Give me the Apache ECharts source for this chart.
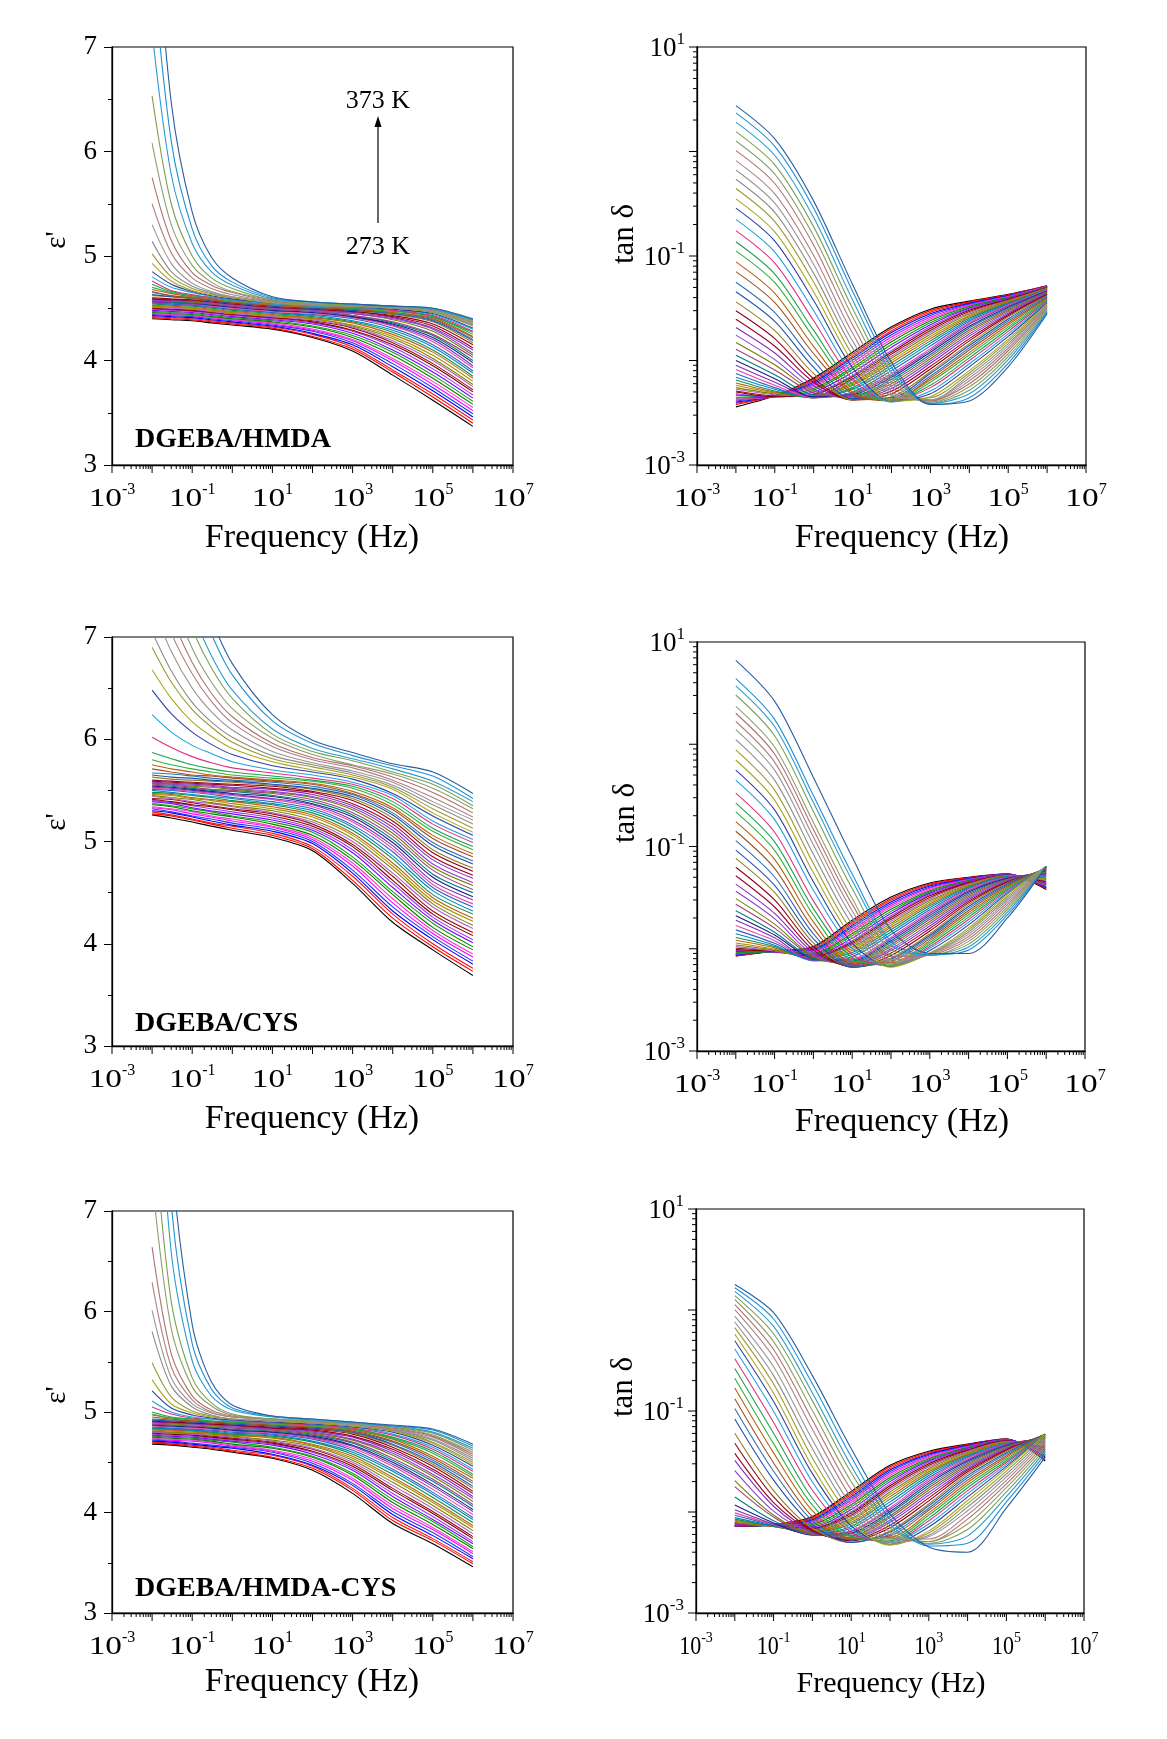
<!DOCTYPE html>
<html>
<head>
<meta charset="utf-8">
<script src="https://cdn.jsdelivr.net/npm/echarts@6/dist/echarts.min.js"></script>
<style>
html,body{margin:0;padding:0;background:#fff;}
#chart{width:1167px;height:1739px;}
</style>
</head>
<body>
<div id="chart"></div>
<script>
// Measurement temperatures (K), one curve each
const temperatures = [273,275,277,279,281,283,285,287,289,291,293,295,297,299,301,303,305,307,309,311,313,315,317,319,321,323,325,327,329,331,333,335,337,339,341,343,345,347,349,351,353,355,357,359,361,363,365,367,369,371,373];

// Frequencies (Hz) at which each curve is sampled
const freqEps = [0.01,0.03,0.1,0.3,1,10,100,1e3,1e4,1e5,1e6];
const freqTan = [0.01,0.1,1,10,100,1e3,1e4,1e5,1e6];

// Real permittivity, DGEBA/HMDA (rows: 273 K ... 373 K)
const epsHMDA = [
[4.40,4.39,4.38,4.36,4.34,4.30,4.22,4.09,3.86,3.62,3.37],
[4.41,4.40,4.39,4.37,4.35,4.31,4.23,4.11,3.89,3.65,3.40],
[4.42,4.41,4.40,4.38,4.36,4.32,4.25,4.13,3.91,3.68,3.43],
[4.43,4.42,4.41,4.39,4.37,4.33,4.26,4.15,3.94,3.71,3.46],
[4.44,4.43,4.42,4.40,4.38,4.34,4.28,4.17,3.97,3.74,3.49],
[4.45,4.44,4.43,4.41,4.39,4.35,4.29,4.19,4.00,3.77,3.52],
[4.45,4.44,4.43,4.41,4.39,4.36,4.30,4.20,4.02,3.80,3.55],
[4.46,4.45,4.44,4.42,4.40,4.37,4.32,4.22,4.05,3.83,3.58],
[4.47,4.46,4.45,4.43,4.41,4.38,4.33,4.24,4.08,3.86,3.61],
[4.48,4.47,4.46,4.44,4.42,4.39,4.35,4.26,4.10,3.89,3.64],
[4.49,4.48,4.47,4.45,4.43,4.40,4.36,4.28,4.13,3.92,3.67],
[4.50,4.49,4.48,4.46,4.44,4.41,4.37,4.29,4.15,3.95,3.70],
[4.50,4.49,4.48,4.46,4.44,4.41,4.38,4.31,4.17,3.97,3.72],
[4.51,4.50,4.49,4.47,4.45,4.42,4.39,4.32,4.19,4.00,3.75],
[4.52,4.51,4.50,4.48,4.46,4.43,4.40,4.33,4.21,4.02,3.77],
[4.52,4.51,4.50,4.48,4.46,4.43,4.40,4.34,4.23,4.05,3.80],
[4.53,4.52,4.51,4.49,4.47,4.44,4.41,4.36,4.25,4.08,3.83],
[4.54,4.53,4.52,4.50,4.48,4.45,4.42,4.37,4.27,4.10,3.85],
[4.55,4.54,4.53,4.51,4.49,4.46,4.43,4.38,4.29,4.13,3.88],
[4.55,4.54,4.53,4.51,4.49,4.46,4.44,4.40,4.31,4.15,3.90],
[4.56,4.55,4.54,4.52,4.50,4.47,4.45,4.41,4.33,4.18,3.93],
[4.56,4.55,4.54,4.53,4.51,4.48,4.46,4.42,4.34,4.20,3.95],
[4.57,4.56,4.55,4.53,4.51,4.48,4.46,4.42,4.35,4.22,3.98],
[4.57,4.56,4.55,4.54,4.52,4.49,4.47,4.43,4.36,4.24,4.00],
[4.58,4.57,4.56,4.54,4.52,4.49,4.47,4.43,4.37,4.25,4.03],
[4.58,4.57,4.56,4.55,4.53,4.50,4.48,4.45,4.39,4.28,4.05],
[4.58,4.57,4.57,4.55,4.53,4.50,4.48,4.45,4.40,4.30,4.07],
[4.59,4.58,4.57,4.56,4.54,4.51,4.49,4.46,4.41,4.31,4.10],
[4.59,4.58,4.58,4.56,4.54,4.51,4.49,4.47,4.42,4.33,4.12],
[4.60,4.59,4.58,4.57,4.55,4.52,4.50,4.47,4.43,4.35,4.15],
[4.62,4.61,4.59,4.57,4.55,4.52,4.50,4.48,4.44,4.37,4.17],
[4.63,4.61,4.60,4.57,4.55,4.52,4.50,4.48,4.45,4.38,4.19],
[4.65,4.62,4.60,4.58,4.56,4.53,4.51,4.49,4.45,4.39,4.20],
[4.66,4.62,4.60,4.58,4.56,4.53,4.51,4.49,4.46,4.40,4.22],
[4.68,4.64,4.61,4.59,4.56,4.53,4.51,4.50,4.46,4.41,4.23],
[4.70,4.65,4.62,4.60,4.57,4.54,4.52,4.50,4.47,4.42,4.25],
[4.73,4.66,4.62,4.60,4.58,4.54,4.52,4.50,4.48,4.42,4.27],
[4.76,4.67,4.63,4.60,4.58,4.54,4.52,4.51,4.48,4.43,4.28],
[4.80,4.70,4.65,4.61,4.58,4.54,4.52,4.51,4.49,4.44,4.30],
[4.85,4.73,4.66,4.62,4.59,4.55,4.53,4.52,4.49,4.45,4.31],
[4.93,4.76,4.67,4.63,4.60,4.55,4.53,4.52,4.50,4.46,4.33],
[5.02,4.80,4.69,4.64,4.60,4.56,4.53,4.52,4.50,4.46,4.34],
[5.14,4.85,4.71,4.65,4.61,4.56,4.53,4.52,4.50,4.47,4.34],
[5.30,4.93,4.74,4.66,4.61,4.56,4.54,4.53,4.51,4.47,4.35],
[5.50,5.03,4.79,4.69,4.63,4.57,4.54,4.53,4.51,4.48,4.36],
[5.75,5.15,4.84,4.72,4.65,4.57,4.54,4.53,4.51,4.48,4.37],
[6.08,5.30,4.91,4.75,4.66,4.58,4.54,4.53,4.51,4.48,4.37],
[6.53,5.50,5.00,4.79,4.69,4.58,4.55,4.53,4.51,4.49,4.38],
[7.14,5.78,5.12,4.85,4.72,4.59,4.56,4.54,4.52,4.49,4.39],
[7.84,6.10,5.26,4.91,4.75,4.60,4.56,4.54,4.52,4.50,4.39],
[8.64,6.47,5.42,4.99,4.79,4.61,4.56,4.54,4.52,4.50,4.40]
];

// Loss tangent, DGEBA/HMDA
const tanHMDA = [
[0.0036,0.0046,0.0068,0.0120,0.0210,0.0310,0.0370,0.0430,0.0520],
[0.0038,0.0046,0.0066,0.0115,0.0202,0.0300,0.0364,0.0426,0.0518],
[0.0039,0.0046,0.0064,0.0110,0.0193,0.0290,0.0358,0.0422,0.0516],
[0.0040,0.0046,0.0062,0.0106,0.0185,0.0280,0.0352,0.0418,0.0514],
[0.0041,0.0046,0.0060,0.0101,0.0176,0.0270,0.0346,0.0414,0.0512],
[0.0042,0.0046,0.0058,0.0096,0.0168,0.0260,0.0340,0.0410,0.0510],
[0.0043,0.0045,0.0056,0.0091,0.0159,0.0250,0.0334,0.0406,0.0508],
[0.0044,0.0045,0.0054,0.0086,0.0151,0.0240,0.0328,0.0402,0.0506],
[0.0046,0.0045,0.0052,0.0082,0.0142,0.0230,0.0322,0.0398,0.0504],
[0.0047,0.0045,0.0050,0.0077,0.0134,0.0220,0.0316,0.0394,0.0502],
[0.0048,0.0045,0.0048,0.0072,0.0125,0.0210,0.0310,0.0390,0.0500],
[0.0050,0.0045,0.0047,0.0070,0.0120,0.0202,0.0302,0.0385,0.0497],
[0.0051,0.0046,0.0046,0.0067,0.0115,0.0194,0.0294,0.0380,0.0494],
[0.0053,0.0047,0.0046,0.0065,0.0110,0.0186,0.0286,0.0375,0.0491],
[0.0055,0.0048,0.0045,0.0062,0.0105,0.0178,0.0278,0.0370,0.0488],
[0.0058,0.0049,0.0045,0.0060,0.0100,0.0170,0.0270,0.0365,0.0485],
[0.0061,0.0050,0.0044,0.0058,0.0095,0.0162,0.0262,0.0360,0.0482],
[0.0065,0.0051,0.0044,0.0055,0.0090,0.0154,0.0254,0.0355,0.0479],
[0.0069,0.0053,0.0044,0.0053,0.0085,0.0146,0.0246,0.0350,0.0476],
[0.0075,0.0055,0.0044,0.0050,0.0080,0.0138,0.0238,0.0345,0.0473],
[0.0082,0.0058,0.0044,0.0049,0.0075,0.0130,0.0230,0.0340,0.0470],
[0.0090,0.0062,0.0045,0.0048,0.0072,0.0125,0.0222,0.0332,0.0465],
[0.0100,0.0067,0.0045,0.0047,0.0069,0.0120,0.0213,0.0324,0.0460],
[0.0112,0.0073,0.0047,0.0046,0.0066,0.0114,0.0205,0.0316,0.0455],
[0.0128,0.0081,0.0049,0.0045,0.0063,0.0109,0.0196,0.0308,0.0450],
[0.0149,0.0091,0.0051,0.0044,0.0060,0.0104,0.0188,0.0300,0.0445],
[0.0175,0.0102,0.0053,0.0043,0.0057,0.0099,0.0179,0.0292,0.0440],
[0.0207,0.0118,0.0057,0.0043,0.0054,0.0094,0.0171,0.0284,0.0435],
[0.0248,0.0137,0.0062,0.0042,0.0051,0.0088,0.0162,0.0276,0.0430],
[0.0299,0.0162,0.0067,0.0042,0.0048,0.0083,0.0154,0.0268,0.0425],
[0.0364,0.0193,0.0075,0.0042,0.0045,0.0078,0.0145,0.0260,0.0420],
[0.0455,0.0237,0.0086,0.0043,0.0044,0.0075,0.0139,0.0250,0.0413],
[0.0560,0.0287,0.0099,0.0045,0.0043,0.0071,0.0132,0.0240,0.0406],
[0.0708,0.0358,0.0116,0.0048,0.0041,0.0068,0.0126,0.0230,0.0399],
[0.0879,0.0440,0.0136,0.0050,0.0042,0.0065,0.0119,0.0220,0.0392],
[0.112,0.0555,0.0165,0.0054,0.0041,0.0062,0.0113,0.0210,0.0385],
[0.137,0.0672,0.0194,0.0059,0.0041,0.0058,0.0106,0.0200,0.0378],
[0.175,0.0854,0.0240,0.0066,0.0041,0.0055,0.0100,0.0190,0.0371],
[0.224,0.109,0.0299,0.0074,0.0040,0.0051,0.0093,0.0180,0.0364],
[0.287,0.139,0.0375,0.0085,0.0041,0.0048,0.0087,0.0170,0.0357],
[0.352,0.170,0.0453,0.0097,0.0041,0.0045,0.0080,0.0160,0.0350],
[0.442,0.213,0.0561,0.0113,0.0043,0.0044,0.0076,0.0153,0.0343],
[0.542,0.261,0.0682,0.0132,0.0046,0.0042,0.0072,0.0145,0.0336],
[0.666,0.320,0.0829,0.0154,0.0048,0.0042,0.0068,0.0138,0.0329],
[0.818,0.393,0.101,0.0182,0.0051,0.0041,0.0064,0.0131,0.0322],
[1.02,0.494,0.127,0.0219,0.0056,0.0041,0.0060,0.0124,0.0315],
[1.26,0.607,0.155,0.0262,0.0062,0.0040,0.0056,0.0116,0.0308],
[1.55,0.745,0.190,0.0315,0.0068,0.0039,0.0052,0.0109,0.0301],
[1.91,0.916,0.233,0.0380,0.0076,0.0039,0.0048,0.0102,0.0294],
[2.34,1.12,0.286,0.0460,0.0086,0.0038,0.0044,0.0094,0.0287],
[2.75,1.32,0.335,0.0534,0.0096,0.0038,0.0041,0.0087,0.0280]
];

// Real permittivity, DGEBA/CYS
const epsCYS = [
[5.26,5.23,5.19,5.15,5.11,5.04,4.91,4.59,4.21,3.94,3.69],
[5.27,5.25,5.21,5.17,5.13,5.06,4.93,4.62,4.25,3.97,3.73],
[5.29,5.26,5.22,5.18,5.15,5.08,4.95,4.66,4.29,4.00,3.76],
[5.30,5.28,5.24,5.20,5.16,5.10,4.98,4.69,4.32,4.04,3.80],
[5.32,5.29,5.25,5.22,5.18,5.12,5.00,4.72,4.36,4.07,3.83],
[5.33,5.31,5.27,5.24,5.20,5.14,5.02,4.76,4.40,4.10,3.87],
[5.34,5.32,5.29,5.25,5.22,5.15,5.04,4.79,4.44,4.13,3.90],
[5.36,5.34,5.30,5.27,5.24,5.17,5.06,4.82,4.48,4.16,3.94],
[5.37,5.35,5.32,5.29,5.25,5.19,5.09,4.85,4.51,4.20,3.97],
[5.39,5.37,5.33,5.30,5.27,5.21,5.11,4.89,4.55,4.23,4.01],
[5.40,5.38,5.35,5.32,5.29,5.23,5.13,4.92,4.59,4.26,4.04],
[5.41,5.39,5.36,5.34,5.31,5.25,5.15,4.95,4.62,4.29,4.08],
[5.42,5.41,5.38,5.35,5.32,5.27,5.17,4.97,4.66,4.32,4.11],
[5.44,5.42,5.39,5.37,5.34,5.28,5.19,5.00,4.69,4.36,4.15],
[5.45,5.43,5.41,5.38,5.35,5.30,5.21,5.03,4.73,4.39,4.18],
[5.46,5.45,5.42,5.40,5.37,5.32,5.24,5.06,4.76,4.42,4.22],
[5.47,5.46,5.43,5.41,5.39,5.34,5.26,5.08,4.79,4.45,4.25],
[5.48,5.47,5.45,5.43,5.40,5.36,5.28,5.11,4.83,4.48,4.29],
[5.50,5.48,5.46,5.44,5.42,5.37,5.30,5.14,4.86,4.52,4.32],
[5.51,5.50,5.48,5.46,5.43,5.39,5.32,5.16,4.90,4.55,4.36],
[5.52,5.51,5.49,5.47,5.45,5.41,5.34,5.19,4.93,4.58,4.39],
[5.53,5.52,5.50,5.48,5.46,5.42,5.36,5.21,4.96,4.61,4.43],
[5.54,5.53,5.51,5.49,5.47,5.44,5.37,5.24,4.99,4.65,4.46],
[5.55,5.54,5.52,5.50,5.49,5.45,5.39,5.26,5.02,4.68,4.50],
[5.56,5.55,5.53,5.51,5.50,5.47,5.41,5.28,5.05,4.72,4.53],
[5.57,5.56,5.54,5.53,5.51,5.48,5.43,5.31,5.08,4.75,4.57],
[5.57,5.56,5.55,5.54,5.52,5.49,5.44,5.33,5.11,4.78,4.60],
[5.58,5.57,5.56,5.55,5.53,5.51,5.46,5.35,5.14,4.82,4.64],
[5.59,5.58,5.57,5.56,5.55,5.52,5.48,5.37,5.17,4.85,4.67],
[5.60,5.59,5.58,5.57,5.56,5.54,5.49,5.40,5.20,4.89,4.71],
[5.63,5.61,5.60,5.59,5.58,5.55,5.51,5.42,5.23,4.92,4.74],
[5.65,5.63,5.62,5.60,5.59,5.56,5.52,5.44,5.26,4.96,4.78],
[5.67,5.66,5.64,5.62,5.60,5.58,5.54,5.46,5.28,4.99,4.81],
[5.71,5.68,5.65,5.64,5.62,5.59,5.56,5.47,5.31,5.03,4.85],
[5.75,5.71,5.68,5.65,5.63,5.60,5.57,5.49,5.33,5.06,4.88],
[5.80,5.75,5.71,5.68,5.65,5.62,5.59,5.52,5.36,5.10,4.92],
[5.87,5.81,5.75,5.71,5.68,5.64,5.60,5.54,5.39,5.13,4.95],
[6.02,5.92,5.83,5.77,5.72,5.67,5.62,5.56,5.42,5.17,4.99],
[6.24,6.07,5.94,5.86,5.78,5.70,5.65,5.58,5.45,5.20,5.02],
[6.48,6.25,6.07,5.95,5.85,5.74,5.68,5.61,5.47,5.25,5.06],
[6.68,6.40,6.17,6.03,5.91,5.78,5.70,5.63,5.51,5.28,5.09],
[6.90,6.56,6.29,6.12,5.97,5.81,5.73,5.65,5.53,5.32,5.13],
[7.05,6.67,6.36,6.17,6.02,5.84,5.75,5.67,5.55,5.36,5.17],
[7.32,6.86,6.50,6.27,6.09,5.88,5.77,5.69,5.58,5.39,5.21],
[7.57,7.04,6.64,6.37,6.16,5.93,5.80,5.72,5.60,5.43,5.24],
[7.80,7.21,6.75,6.45,6.22,5.96,5.82,5.74,5.63,5.48,5.28],
[8.07,7.41,6.89,6.56,6.30,6.01,5.85,5.75,5.66,5.52,5.32],
[8.43,7.67,7.08,6.70,6.40,6.05,5.88,5.79,5.68,5.56,5.35],
[8.76,7.91,7.25,6.82,6.48,6.10,5.91,5.81,5.71,5.59,5.39],
[9.33,8.31,7.53,7.03,6.63,6.18,5.96,5.84,5.74,5.64,5.42],
[9.74,8.61,7.74,7.18,6.74,6.24,5.99,5.87,5.76,5.68,5.47]
];

// Loss tangent, DGEBA/CYS
const tanCYS = [
[0.0085,0.0095,0.0105,0.0190,0.0320,0.0440,0.0500,0.0540,0.0380],
[0.0085,0.0095,0.0103,0.0183,0.0309,0.0430,0.0495,0.0539,0.0386],
[0.0086,0.0095,0.0101,0.0176,0.0298,0.0420,0.0490,0.0538,0.0392],
[0.0087,0.0095,0.0099,0.0169,0.0287,0.0410,0.0485,0.0537,0.0398],
[0.0088,0.0094,0.0097,0.0162,0.0276,0.0400,0.0480,0.0536,0.0404],
[0.0089,0.0094,0.0095,0.0155,0.0265,0.0390,0.0475,0.0535,0.0410],
[0.0090,0.0093,0.0093,0.0148,0.0254,0.0380,0.0470,0.0534,0.0416],
[0.0091,0.0093,0.0091,0.0141,0.0243,0.0370,0.0465,0.0533,0.0422],
[0.0092,0.0092,0.0089,0.0134,0.0232,0.0360,0.0460,0.0532,0.0428],
[0.0094,0.0093,0.0087,0.0127,0.0221,0.0350,0.0455,0.0531,0.0434],
[0.0096,0.0093,0.0085,0.0120,0.0210,0.0340,0.0450,0.0530,0.0440],
[0.0098,0.0094,0.0084,0.0116,0.0202,0.0329,0.0443,0.0527,0.0449],
[0.0101,0.0095,0.0083,0.0112,0.0194,0.0318,0.0436,0.0524,0.0458],
[0.0105,0.0095,0.0082,0.0108,0.0186,0.0307,0.0429,0.0521,0.0467],
[0.0109,0.0097,0.0081,0.0104,0.0178,0.0296,0.0422,0.0518,0.0476],
[0.0114,0.0099,0.0080,0.0100,0.0170,0.0285,0.0415,0.0515,0.0485],
[0.0121,0.0102,0.0079,0.0096,0.0162,0.0274,0.0408,0.0512,0.0494],
[0.0129,0.0105,0.0078,0.0092,0.0154,0.0263,0.0401,0.0509,0.0503],
[0.0140,0.0108,0.0076,0.0088,0.0146,0.0252,0.0394,0.0506,0.0512],
[0.0153,0.0113,0.0077,0.0084,0.0138,0.0241,0.0387,0.0503,0.0521],
[0.0169,0.0120,0.0078,0.0080,0.0130,0.0230,0.0380,0.0500,0.0530],
[0.0190,0.0128,0.0078,0.0078,0.0125,0.0221,0.0369,0.0494,0.0537],
[0.0210,0.0136,0.0080,0.0076,0.0120,0.0212,0.0358,0.0488,0.0544],
[0.0235,0.0145,0.0080,0.0074,0.0115,0.0203,0.0347,0.0482,0.0551],
[0.0272,0.0159,0.0083,0.0072,0.0110,0.0194,0.0336,0.0476,0.0558],
[0.0309,0.0174,0.0084,0.0070,0.0105,0.0185,0.0325,0.0470,0.0565],
[0.0365,0.0197,0.0087,0.0070,0.0100,0.0176,0.0314,0.0464,0.0572],
[0.0429,0.0222,0.0092,0.0069,0.0096,0.0167,0.0303,0.0458,0.0579],
[0.0517,0.0256,0.0097,0.0067,0.0091,0.0158,0.0292,0.0452,0.0586],
[0.0627,0.0300,0.0105,0.0066,0.0086,0.0149,0.0281,0.0446,0.0593],
[0.0766,0.0355,0.0114,0.0066,0.0081,0.0140,0.0270,0.0440,0.0600],
[0.0922,0.0417,0.0125,0.0066,0.0079,0.0135,0.0259,0.0430,0.0604],
[0.114,0.0503,0.0140,0.0068,0.0076,0.0130,0.0248,0.0420,0.0608],
[0.141,0.0611,0.0158,0.0071,0.0075,0.0125,0.0237,0.0410,0.0612],
[0.175,0.0747,0.0183,0.0074,0.0073,0.0120,0.0226,0.0400,0.0616],
[0.218,0.0918,0.0213,0.0077,0.0071,0.0115,0.0215,0.0390,0.0620],
[0.266,0.111,0.0247,0.0082,0.0069,0.0110,0.0204,0.0380,0.0624],
[0.333,0.138,0.0294,0.0088,0.0068,0.0105,0.0193,0.0370,0.0628],
[0.446,0.183,0.0373,0.0101,0.0067,0.0101,0.0182,0.0360,0.0632],
[0.559,0.228,0.0453,0.0113,0.0067,0.0096,0.0171,0.0350,0.0636],
[0.701,0.284,0.0554,0.0128,0.0066,0.0091,0.0160,0.0340,0.0640],
[0.880,0.356,0.0681,0.0148,0.0068,0.0090,0.0153,0.0326,0.0640],
[1.11,0.446,0.0840,0.0173,0.0071,0.0089,0.0146,0.0312,0.0640],
[1.39,0.558,0.104,0.0204,0.0075,0.0089,0.0139,0.0298,0.0640],
[1.67,0.669,0.124,0.0235,0.0078,0.0088,0.0132,0.0284,0.0640],
[2.01,0.802,0.147,0.0273,0.0084,0.0087,0.0125,0.0270,0.0640],
[2.35,0.941,0.172,0.0312,0.0088,0.0086,0.0118,0.0256,0.0640],
[3.03,1.21,0.220,0.0388,0.0098,0.0087,0.0111,0.0242,0.0640],
[3.73,1.49,0.269,0.0465,0.0109,0.0086,0.0104,0.0228,0.0640],
[4.38,1.75,0.315,0.0538,0.0118,0.0087,0.0097,0.0214,0.0640],
[6.62,2.64,0.474,0.0789,0.0153,0.0090,0.0090,0.0200,0.0640]
];

// Real permittivity, DGEBA/HMDA-CYS
const epsMIX = [
[4.68,4.67,4.65,4.63,4.60,4.54,4.42,4.19,3.89,3.69,3.46],
[4.69,4.68,4.66,4.64,4.61,4.55,4.44,4.22,3.92,3.72,3.49],
[4.70,4.69,4.67,4.65,4.62,4.57,4.46,4.24,3.95,3.74,3.51],
[4.71,4.70,4.68,4.66,4.64,4.58,4.47,4.27,3.98,3.77,3.54],
[4.72,4.71,4.69,4.67,4.65,4.60,4.49,4.29,4.01,3.80,3.56],
[4.73,4.72,4.71,4.69,4.66,4.61,4.51,4.32,4.04,3.83,3.59],
[4.74,4.73,4.72,4.70,4.67,4.62,4.53,4.34,4.07,3.85,3.61],
[4.75,4.74,4.73,4.71,4.68,4.64,4.55,4.37,4.10,3.88,3.64],
[4.76,4.75,4.74,4.72,4.70,4.65,4.56,4.39,4.13,3.91,3.66],
[4.77,4.76,4.75,4.73,4.71,4.67,4.58,4.42,4.16,3.93,3.69],
[4.78,4.77,4.76,4.74,4.72,4.68,4.60,4.44,4.19,3.96,3.71],
[4.79,4.78,4.77,4.75,4.73,4.69,4.61,4.46,4.22,3.99,3.74],
[4.80,4.79,4.78,4.76,4.74,4.70,4.63,4.48,4.24,4.01,3.76],
[4.80,4.79,4.78,4.77,4.75,4.71,4.64,4.50,4.27,4.04,3.79],
[4.81,4.80,4.79,4.78,4.76,4.72,4.66,4.52,4.30,4.07,3.82],
[4.82,4.81,4.80,4.79,4.77,4.74,4.67,4.54,4.33,4.10,3.85],
[4.83,4.82,4.81,4.79,4.77,4.75,4.68,4.56,4.35,4.12,3.87],
[4.84,4.83,4.82,4.80,4.78,4.76,4.70,4.58,4.38,4.15,3.90],
[4.84,4.83,4.82,4.81,4.79,4.77,4.71,4.60,4.41,4.18,3.93],
[4.85,4.84,4.83,4.82,4.80,4.78,4.73,4.62,4.43,4.20,3.95],
[4.86,4.85,4.84,4.83,4.81,4.79,4.74,4.64,4.46,4.23,3.98],
[4.87,4.86,4.85,4.84,4.82,4.80,4.75,4.66,4.48,4.26,4.01],
[4.87,4.86,4.85,4.84,4.82,4.80,4.76,4.67,4.50,4.28,4.03],
[4.88,4.87,4.86,4.85,4.83,4.81,4.77,4.69,4.52,4.31,4.06],
[4.88,4.87,4.86,4.85,4.84,4.82,4.78,4.70,4.54,4.33,4.08],
[4.89,4.88,4.87,4.86,4.85,4.83,4.79,4.72,4.57,4.36,4.11],
[4.90,4.89,4.88,4.87,4.85,4.83,4.80,4.73,4.59,4.38,4.14],
[4.90,4.89,4.88,4.87,4.86,4.84,4.81,4.75,4.61,4.41,4.16],
[4.91,4.90,4.89,4.88,4.87,4.84,4.82,4.76,4.63,4.43,4.19],
[4.91,4.90,4.89,4.88,4.87,4.85,4.83,4.78,4.65,4.46,4.21],
[4.92,4.91,4.90,4.89,4.88,4.86,4.84,4.79,4.67,4.48,4.24],
[4.92,4.91,4.90,4.89,4.88,4.86,4.84,4.80,4.68,4.50,4.26],
[4.93,4.92,4.91,4.90,4.89,4.87,4.85,4.80,4.70,4.52,4.29],
[4.95,4.93,4.91,4.90,4.89,4.87,4.85,4.81,4.71,4.54,4.31],
[4.97,4.94,4.92,4.91,4.90,4.88,4.86,4.82,4.73,4.56,4.34],
[4.98,4.94,4.93,4.91,4.90,4.88,4.86,4.83,4.74,4.59,4.36],
[5.00,4.95,4.93,4.91,4.90,4.89,4.87,4.83,4.75,4.61,4.38],
[5.05,4.98,4.94,4.93,4.91,4.89,4.87,4.84,4.77,4.63,4.41],
[5.11,5.00,4.95,4.93,4.91,4.90,4.88,4.85,4.78,4.65,4.43],
[5.21,5.04,4.97,4.94,4.92,4.90,4.88,4.85,4.80,4.67,4.46],
[5.32,5.08,4.99,4.95,4.93,4.91,4.89,4.86,4.81,4.69,4.48],
[5.49,5.15,5.01,4.96,4.93,4.91,4.89,4.86,4.82,4.70,4.50],
[5.80,5.26,5.05,4.97,4.93,4.91,4.90,4.87,4.82,4.72,4.52],
[6.01,5.34,5.08,4.99,4.95,4.92,4.90,4.87,4.83,4.73,4.54],
[6.29,5.45,5.12,5.00,4.95,4.93,4.90,4.88,4.83,4.75,4.56],
[6.64,5.58,5.16,5.02,4.96,4.93,4.91,4.88,4.84,4.76,4.58],
[7.32,5.83,5.25,5.06,4.97,4.93,4.91,4.88,4.85,4.77,4.60],
[8.04,6.10,5.34,5.09,4.98,4.93,4.91,4.89,4.85,4.79,4.62],
[9.35,6.59,5.51,5.16,5.02,4.95,4.92,4.89,4.86,4.80,4.64],
[10.68,7.08,5.68,5.23,5.04,4.96,4.93,4.90,4.86,4.82,4.66],
[12.18,7.63,5.87,5.30,5.07,4.96,4.93,4.90,4.87,4.83,4.68]
];

// Loss tangent, DGEBA/HMDA-CYS
const tanMIX = [
[0.0072,0.0075,0.0090,0.0160,0.0290,0.0400,0.0470,0.0530,0.0320],
[0.0072,0.0075,0.0088,0.0154,0.0280,0.0391,0.0465,0.0528,0.0330],
[0.0073,0.0075,0.0086,0.0148,0.0270,0.0382,0.0460,0.0526,0.0340],
[0.0073,0.0074,0.0084,0.0142,0.0260,0.0373,0.0455,0.0524,0.0350],
[0.0073,0.0074,0.0082,0.0136,0.0250,0.0364,0.0450,0.0522,0.0360],
[0.0074,0.0074,0.0080,0.0130,0.0240,0.0355,0.0445,0.0520,0.0370],
[0.0074,0.0074,0.0078,0.0124,0.0230,0.0346,0.0440,0.0518,0.0380],
[0.0074,0.0074,0.0076,0.0118,0.0220,0.0337,0.0435,0.0516,0.0390],
[0.0074,0.0073,0.0074,0.0112,0.0210,0.0328,0.0430,0.0514,0.0400],
[0.0075,0.0073,0.0072,0.0106,0.0200,0.0319,0.0425,0.0512,0.0410],
[0.0076,0.0073,0.0070,0.0100,0.0190,0.0310,0.0420,0.0510,0.0420],
[0.0077,0.0073,0.0069,0.0097,0.0182,0.0300,0.0412,0.0506,0.0431],
[0.0078,0.0073,0.0068,0.0093,0.0174,0.0290,0.0404,0.0502,0.0442],
[0.0078,0.0072,0.0067,0.0090,0.0166,0.0280,0.0396,0.0498,0.0453],
[0.0079,0.0072,0.0066,0.0086,0.0158,0.0270,0.0388,0.0494,0.0464],
[0.0081,0.0072,0.0065,0.0083,0.0150,0.0260,0.0380,0.0490,0.0475],
[0.0083,0.0072,0.0064,0.0079,0.0142,0.0250,0.0372,0.0486,0.0486],
[0.0085,0.0072,0.0063,0.0076,0.0134,0.0240,0.0364,0.0482,0.0497],
[0.0088,0.0073,0.0062,0.0072,0.0126,0.0230,0.0356,0.0478,0.0508],
[0.0093,0.0074,0.0061,0.0069,0.0118,0.0220,0.0348,0.0474,0.0519],
[0.0098,0.0075,0.0060,0.0065,0.0110,0.0210,0.0340,0.0470,0.0530],
[0.0105,0.0076,0.0060,0.0064,0.0106,0.0201,0.0330,0.0463,0.0536],
[0.0117,0.0078,0.0059,0.0062,0.0101,0.0192,0.0320,0.0456,0.0542],
[0.0141,0.0082,0.0060,0.0061,0.0097,0.0183,0.0310,0.0449,0.0548],
[0.0178,0.0089,0.0060,0.0059,0.0092,0.0174,0.0300,0.0442,0.0554],
[0.0204,0.0093,0.0061,0.0058,0.0088,0.0165,0.0290,0.0435,0.0560],
[0.0257,0.0102,0.0062,0.0056,0.0083,0.0156,0.0280,0.0428,0.0566],
[0.0324,0.0114,0.0063,0.0055,0.0079,0.0147,0.0270,0.0421,0.0572],
[0.0380,0.0124,0.0065,0.0053,0.0074,0.0138,0.0260,0.0414,0.0578],
[0.0479,0.0141,0.0066,0.0052,0.0070,0.0129,0.0250,0.0407,0.0584],
[0.0603,0.0163,0.0069,0.0050,0.0065,0.0120,0.0240,0.0400,0.0590],
[0.0833,0.0207,0.0075,0.0050,0.0063,0.0115,0.0229,0.0387,0.0590],
[0.106,0.0253,0.0082,0.0053,0.0060,0.0109,0.0218,0.0374,0.0590],
[0.132,0.0306,0.0090,0.0054,0.0058,0.0104,0.0207,0.0361,0.0590],
[0.169,0.0385,0.0103,0.0055,0.0056,0.0098,0.0196,0.0348,0.0590],
[0.211,0.0475,0.0117,0.0057,0.0054,0.0093,0.0185,0.0335,0.0590],
[0.263,0.0603,0.0136,0.0058,0.0052,0.0087,0.0174,0.0322,0.0590],
[0.329,0.0771,0.0164,0.0063,0.0050,0.0082,0.0163,0.0309,0.0590],
[0.411,0.0993,0.0198,0.0067,0.0050,0.0076,0.0152,0.0296,0.0590],
[0.496,0.124,0.0240,0.0073,0.0048,0.0071,0.0141,0.0283,0.0590],
[0.576,0.150,0.0281,0.0078,0.0047,0.0065,0.0130,0.0270,0.0590],
[0.669,0.185,0.0343,0.0089,0.0048,0.0062,0.0121,0.0254,0.0566],
[0.760,0.224,0.0423,0.0101,0.0050,0.0059,0.0112,0.0238,0.0542],
[0.871,0.274,0.0518,0.0117,0.0051,0.0057,0.0103,0.0222,0.0518],
[1.01,0.340,0.0660,0.0139,0.0054,0.0054,0.0094,0.0206,0.0494],
[1.13,0.406,0.0815,0.0166,0.0058,0.0051,0.0085,0.0190,0.0470],
[1.27,0.486,0.101,0.0200,0.0063,0.0051,0.0076,0.0174,0.0446],
[1.39,0.582,0.126,0.0245,0.0070,0.0049,0.0067,0.0158,0.0422],
[1.53,0.688,0.151,0.0287,0.0075,0.0048,0.0058,0.0142,0.0398],
[1.66,0.814,0.186,0.0352,0.0085,0.0046,0.0049,0.0126,0.0374],
[1.79,0.940,0.224,0.0425,0.0096,0.0045,0.0040,0.0110,0.0350]
];

// Line colours, 273 K first
const palette = [
'#000000','#ff0000','#f01818','#0000ff','#1c3cf0','#ff00ff','#f040c8','#008000','#10a010','#8000ff',
'#9a3cf0','#800000','#9a1010','#b060d0','#808000','#a09000','#c06010','#109050','#0088b8','#3060d0',
'#e84898','#7a30c0','#202080','#008080','#a04080','#708000','#9040d0','#8030c0','#a00020','#900018',
'#908020','#2050b0','#3070b0','#a05020','#b86010','#30b040','#20a050','#e0307f','#20a0e0','#3040a0',
'#a8a820','#9a9a30','#8c8c8c','#969696','#b08080','#b07070','#8aa070','#7f9f4f','#2a9ad0','#1f8fd6',
'#2b5e9c'
];

const FONT = '"Liberation Serif", "Times New Roman", serif';

// tick-label style per panel: base size, horizontal stretch, exponent size
const panels = [
  {grid:{left:112, top:47, width:401, height:418}, kind:'eps', rows:epsHMDA, lab:{bs:26, sx:1.28, ss:16}},
  {grid:{left:697, top:47, width:389, height:418}, kind:'tan', rows:tanHMDA, lab:{bs:26, sx:1.28, ss:16}},
  {grid:{left:112, top:637, width:401, height:409}, kind:'eps', rows:epsCYS, lab:{bs:26, sx:1.28, ss:16}},
  {grid:{left:697, top:642, width:388, height:409}, kind:'tan', rows:tanCYS, lab:{bs:26, sx:1.28, ss:16}},
  {grid:{left:112, top:1211, width:401, height:402}, kind:'eps', rows:epsMIX, lab:{bs:26, sx:1.28, ss:16}},
  {grid:{left:696, top:1209, width:388, height:404}, kind:'tan', rows:tanMIX, lab:{bs:25, sx:0.88, ss:14}}
];

function powLabel(v) {
  const e = Math.round(Math.log10(v));
  return (Math.abs(e) % 2 === 1) ? '{b|10}{s|' + e + '}' : '';
}
function powRich(size) {
  return {
    b: {fontFamily: FONT, fontSize: size, color: '#000', lineHeight: size + 4, verticalAlign: 'bottom'},
    s: {fontFamily: FONT, fontSize: Math.round(size * 0.62), color: '#000', lineHeight: Math.round(size * 0.62), verticalAlign: 'top'}
  };
}

// frequency-axis ticks: decades (long, labelled on odd powers) and 2..9 sub-divisions
function freqTicks() {
  const out = [];
  for (let e = -3; e <= 7; e++) {
    out.push({v: Math.pow(10, e), len: 8, exp: (Math.abs(e) % 2 === 1) ? e : null});
    if (e < 7) for (let m = 2; m <= 9; m++) out.push({v: m * Math.pow(10, e), len: 4, exp: null});
  }
  return out;
}
// y ticks for the loss-tangent axes
function tanTicks() {
  const out = [];
  for (let e = -3; e <= 1; e++) {
    out.push([Math.pow(10, e), 8]);
    if (e < 1) for (let m = 2; m <= 9; m++) out.push([m * Math.pow(10, e), 4]);
  }
  return out;
}

const grid = [], xAxis = [], yAxis = [], series = [];

panels.forEach((p, pi) => {
  grid.push(Object.assign({show: true, borderColor: '#000', borderWidth: 1.2, backgroundColor: 'transparent'}, p.grid));
  xAxis.push({
    type: 'log', logBase: 10, min: 1e-3, max: 1e7, gridIndex: pi,
    axisLine: {lineStyle: {color: '#000', width: 1.3}},
    axisTick: {show: false}, minorTick: {show: false}, splitLine: {show: false},
    axisLabel: {show: false}
  });
  if (p.kind === 'eps') {
    yAxis.push({
      type: 'value', min: 3, max: 7, interval: 1, gridIndex: pi,
      axisLine: {show: true, lineStyle: {color: '#000', width: 1.3}},
      axisTick: {show: true, length: 8, lineStyle: {color: '#000', width: 1}},
      minorTick: {show: true, splitNumber: 2, length: 4, lineStyle: {color: '#000', width: 1}},
      splitLine: {show: false},
      axisLabel: {fontFamily: FONT, fontSize: 27, color: '#000', margin: 15}
    });
  } else {
    yAxis.push({
      type: 'log', logBase: 10, min: 1e-3, max: 10, splitNumber: 4, gridIndex: pi,
      axisLine: {show: true, lineStyle: {color: '#000', width: 1.3}},
      axisTick: {show: false}, minorTick: {show: false}, splitLine: {show: false},
      axisLabel: {formatter: powLabel, rich: powRich(27), margin: 12, showMinLabel: true, showMaxLabel: true}
    });
  }

  const freq = p.kind === 'eps' ? freqEps : freqTan;
  p.rows.forEach((row, i) => {
    series.push({
      type: 'line', name: temperatures[i] + ' K', xAxisIndex: pi, yAxisIndex: pi,
      data: freq.map((f, k) => [f, row[k]]),
      smooth: 0.3, showSymbol: false, clip: true, silent: true,
      lineStyle: {width: 1.1, color: palette[i]}, itemStyle: {color: palette[i]},
      z: 2
    });
  });

  // frequency ticks and their power-of-ten labels
  const yRef = p.kind === 'eps' ? 3 : 1e-3;
  const ticks = freqTicks();
  const L = p.lab;
  series.push({
    type: 'custom', xAxisIndex: pi, yAxisIndex: pi, silent: true, z: 5, clip: false,
    data: ticks.map((t, k) => [t.v, yRef, k]),
    encode: {x: 0, y: 1},
    renderItem: (params, api) => {
      const t = ticks[api.value(2)];
      const pt = api.coord([api.value(0), api.value(1)]);
      const children = [{type: 'line', shape: {x1: pt[0], y1: pt[1], x2: pt[0], y2: pt[1] + t.len}, style: {stroke: '#000', lineWidth: 1}}];
      if (t.exp !== null) {
        const es = String(t.exp);
        const bw = L.bs * 1.0 * L.sx;
        const ew = L.ss * (0.5 * es.replace('-', '').length + (t.exp < 0 ? 0.333 : 0));
        const left = pt[0] - (bw + ew) / 2;
        children.push({type: 'text', x: left, y: pt[1] + 34, scaleX: L.sx, style: {text: '10', fontFamily: FONT, fontSize: L.bs, fill: '#000', textAlign: 'left', align: 'left', textVerticalAlign: 'middle', verticalAlign: 'middle'}});
        children.push({type: 'text', x: left + bw, y: pt[1] + 25, style: {text: es, fontFamily: FONT, fontSize: L.ss, fill: '#000', textAlign: 'left', align: 'left', textVerticalAlign: 'middle', verticalAlign: 'middle'}});
      }
      return {type: 'group', children: children};
    }
  });
  if (p.kind === 'tan') {
    series.push({
      type: 'custom', xAxisIndex: pi, yAxisIndex: pi, silent: true, z: 5, clip: false,
      data: tanTicks().map(t => [1e-3, t[0], t[1]]),
      encode: {x: 0, y: 1},
      renderItem: (params, api) => {
        const pt = api.coord([api.value(0), api.value(1)]);
        const len = api.value(2);
        return {type: 'line', shape: {x1: pt[0] - len, y1: pt[1], x2: pt[0], y2: pt[1]}, style: {stroke: '#000', lineWidth: 1}};
      }
    });
  }
});

function label(x, y, text, size, opts) {
  opts = opts || {};
  return {
    type: 'text', x: x, y: y, rotation: opts.rot || 0, z: 10, silent: true,
    style: {
      text: text, fill: '#000', fontFamily: FONT, fontSize: size, fontWeight: opts.bold ? 'bold' : 'normal',
      textAlign: opts.align || 'center', textVerticalAlign: 'middle', align: opts.align || 'center', verticalAlign: 'middle'
    }
  };
}

const R = Math.PI / 2;
const graphic = [
  label(312, 538, 'Frequency (Hz)', 34),
  label(902, 538, 'Frequency (Hz)', 34),
  label(312, 1119, 'Frequency (Hz)', 34),
  label(902, 1122, 'Frequency (Hz)', 34),
  label(312, 1682, 'Frequency (Hz)', 34),
  label(891, 1684, 'Frequency (Hz)', 30),
  label(57, 240, "ε'", 29, {rot: R}),
  label(57, 822, "ε'", 29, {rot: R}),
  label(57, 1395, "ε'", 29, {rot: R}),
  label(625, 234, 'tan δ', 31, {rot: R}),
  label(626, 813, 'tan δ', 31, {rot: R}),
  label(624, 1387, 'tan δ', 31, {rot: R}),
  label(135, 440, 'DGEBA/HMDA', 28, {bold: true, align: 'left'}),
  label(135, 1024, 'DGEBA/CYS', 28, {bold: true, align: 'left'}),
  label(135, 1589, 'DGEBA/HMDA-CYS', 28, {bold: true, align: 'left'}),
  label(378, 101, '373 K', 26),
  label(378, 247, '273 K', 26),
  {type: 'line', z: 10, silent: true, shape: {x1: 378, y1: 223, x2: 378, y2: 124}, style: {stroke: '#000', lineWidth: 1.2}},
  {type: 'polygon', z: 10, silent: true, shape: {points: [[378, 116], [374.5, 127], [381.5, 127]]}, style: {fill: '#000'}}
];

const chart = echarts.init(document.getElementById('chart'), null, {renderer: 'canvas'});
chart.setOption({
  backgroundColor: '#ffffff',
  animation: false,
  grid: grid,
  xAxis: xAxis,
  yAxis: yAxis,
  series: series,
  graphic: graphic
});
</script>
</body>
</html>
